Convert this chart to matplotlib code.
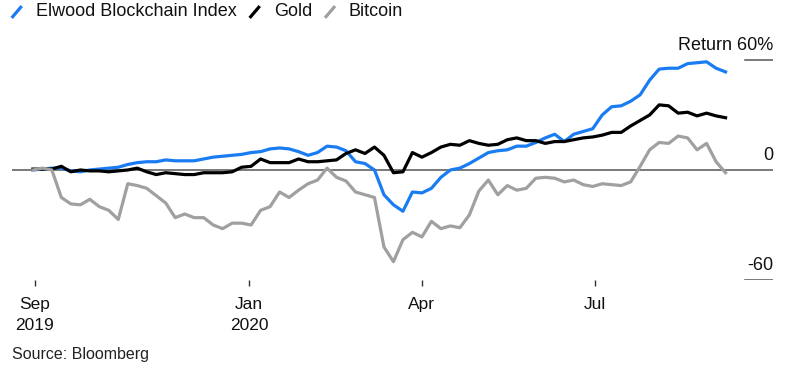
import matplotlib
matplotlib.use('Agg')
import matplotlib.pyplot as plt
import matplotlib.dates as mdates
from matplotlib.lines import Line2D
import pandas as pd

plt.rcParams['font.family'] = ['Liberation Sans', 'DejaVu Sans']

# valores, um ponto a cada 5 dias (retorno em %)
datas = pd.date_range('2019-09-09', periods=74, freq='5D')

elwood = [0, 0.5, 1, 1, -0.5, -1, 0, 0.5, 1, 1.5,
          3, 4, 4.5, 4.5, 5.5, 5, 5, 5, 6, 7,
          7.5, 8, 8.5, 9.5, 10, 11.5, 12, 11.5, 10, 8,
          9.5, 13, 12.5, 10.5, 4.5, 3.5, 0, -13.5, -19, -22.5,
          -12, -12.5, -10, -4, 0, 1, 3.5, 6.5, 9.5, 10.5,
          11, 13, 13, 15, 17.5, 19.5, 15.5, 19.5, 21, 22.5,
          30, 34.5, 35, 37.5, 41, 49, 55, 55.5, 55.5, 58,
          58.5, 59, 55.5, 53.5]

ouro = [0.5, 0.5, 0.5, 2, -1, 0, -0.5, -0.5, -1, -0.5,
        0, 1, -1, -2.5, -1.5, -2, -2.5, -2.5, -1.5, -1.5,
        -1.5, -1, 1.5, 2, 6, 4, 4, 4, 6, 4.5,
        4.5, 5, 5.5, 9, 11, 9, 12.5, 8, -1.5, -1,
        9.5, 7, 9.5, 12.5, 14, 13.5, 16, 14.5, 13.5, 14,
        16.5, 17.5, 16, 16, 14.5, 15.5, 15.5, 16.5, 17.5, 18,
        19, 20.5, 20.5, 24, 27, 30, 35.5, 35, 31, 31.5,
        29.5, 31, 29.5, 28.5]

bitcoin = [0, 1, 0, -15, -18.5, -19, -16, -20, -22, -27,
           -7.5, -8.5, -10, -14, -18, -26, -24, -26, -26, -30,
           -32, -29, -29, -30, -22, -20, -12, -15, -11, -7.5,
           -5.5, 1, -4, -6, -12, -13.5, -15, -42, -50, -38,
           -34, -36.5, -28, -32, -30.5, -31.5, -24.5, -11.5, -5.5, -13.5,
           -8.5, -11, -10, -4.5, -4, -4.5, -6.5, -5.5, -8, -9,
           -7.5, -8, -8.5, -6.5, 2, 11, 15, 14.5, 18.5, 17.5,
           11, 14.5, 4.5, -1.5]

nomes = ['Elwood Blockchain Index', 'Gold', 'Bitcoin']
cores = ['#1a7cf2', '#000000', '#a0a0a0']

tick_datas = pd.to_datetime(['2019-09-10', '2020-01-01', '2020-04-01', '2020-07-01'])
tick_nomes = ['Sep\n2019', 'Jan\n2020', 'Apr', 'Jul']

W, H = 809, 376
fig = plt.figure(figsize=(W / 100, H / 100), dpi=100)
ax = fig.add_axes([12 / W, (H - 280) / H, 761 / W, (280 - 56.3) / H])

for serie, cor in zip([elwood, ouro, bitcoin], cores):
    ax.plot(datas, serie, color=cor, lw=2.3, solid_joinstyle='round', zorder=3)

ax.set_xlim(pd.Timestamp('2019-08-29'), pd.Timestamp('2020-10-03'))
ax.set_ylim(-60, 62)

# linha do zero e tracinhos de 60 / -60
ax.axhline(0, color='#555555', lw=1.1, zorder=1)
ax.axhline(60, xmin=0.963, xmax=1, color='#555555', lw=1.1)
ax.axhline(-60, xmin=0.963, xmax=1, color='#555555', lw=1.1)

for v, txt in [(60, 'Return 60%'), (0, '0'), (-60, '-60')]:
    ax.annotate(txt, xy=(1, v), xycoords=('axes fraction', 'data'),
                xytext=(0, 7.5), textcoords='offset points',
                ha='right', va='baseline', fontsize=13, color='#111111')

for s in ax.spines.values():
    s.set_visible(False)
ax.set_yticks([])
ax.set_xticks(tick_datas)
ax.set_xticklabels(tick_nomes, fontsize=12.5, linespacing=1.45, color='#111111')
ax.tick_params(axis='x', direction='out', length=4.5, width=1, color='#333333', pad=8)

# legenda com tracinhos inclinados
def px(x, y):
    return x / W, 1 - y / H

for (x0, xt), nome, cor in zip([(12.7, 36), (250.7, 274), (326, 349)], nomes, cores):
    a = px(x0, 16.7)
    b = px(x0 + 8, 7.3)
    fig.add_artist(Line2D([a[0], b[0]], [a[1], b[1]], color=cor, lw=2.3,
                          transform=fig.transFigure))
    fig.text(*px(xt, 12), nome, fontsize=13, va='center', ha='left', color='#111111')

fig.text(*px(12, 355), 'Source: Bloomberg', fontsize=11.5, va='center', ha='left',
         color='#222222')

fig.savefig('out.png', dpi=100)
